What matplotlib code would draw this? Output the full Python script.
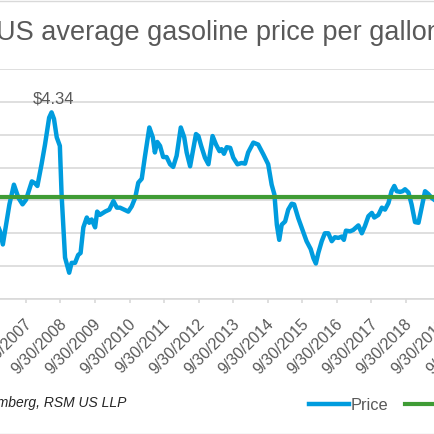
import numpy as np
import matplotlib
matplotlib.use("Agg")
import matplotlib.pyplot as plt
import matplotlib.transforms as mtransforms
from matplotlib.patches import Rectangle

plt.rcParams['font.family'] = ['Liberation Sans', 'DejaVu Sans']

# decimal years and weekly-ish price readings ($/gal)
dates = [2006.88, 2007.00, 2007.08, 2007.27, 2007.40, 2007.53, 2007.65, 2007.75,
         2007.92, 2008.01, 2008.08, 2008.20, 2008.30, 2008.42, 2008.49, 2008.56,
         2008.64, 2008.73, 2008.78, 2008.88, 2009.00, 2009.07, 2009.17, 2009.26,
         2009.33, 2009.41, 2009.51, 2009.58, 2009.65, 2009.75, 2009.81, 2009.89,
         2010.04, 2010.16, 2010.28, 2010.38, 2010.47, 2010.59, 2010.71, 2010.81,
         2010.91, 2011.00, 2011.10, 2011.19, 2011.32, 2011.42, 2011.48, 2011.55,
         2011.63, 2011.72, 2011.82, 2011.92, 2012.01, 2012.11, 2012.23, 2012.33,
         2012.40, 2012.50, 2012.59, 2012.67, 2012.74, 2012.82, 2012.93, 2013.03,
         2013.15, 2013.25, 2013.35, 2013.41, 2013.48, 2013.56, 2013.66, 2013.75,
         2013.87, 2013.99, 2014.09, 2014.18, 2014.33, 2014.47, 2014.62, 2014.76,
         2014.86, 2014.94, 2015.01, 2015.08, 2015.15, 2015.25, 2015.34, 2015.44,
         2015.51, 2015.63, 2015.76, 2015.87, 2015.99, 2016.07, 2016.14, 2016.21,
         2016.31, 2016.40, 2016.50, 2016.60, 2016.69, 2016.79, 2016.89, 2016.95,
         2017.01, 2017.13, 2017.22, 2017.37, 2017.47, 2017.56, 2017.66, 2017.76,
         2017.83, 2017.95, 2018.05, 2018.14, 2018.24, 2018.33, 2018.41, 2018.48,
         2018.58, 2018.65, 2018.72, 2018.82, 2018.91, 2019.01, 2019.11, 2019.20,
         2019.30, 2019.39, 2019.49, 2019.59, 2019.73]
price = [2.68, 2.53, 2.33, 2.94, 3.24, 3.04, 2.94, 3.01,
         3.29, 3.26, 3.22, 3.55, 3.85, 4.26, 4.34, 4.24,
         3.96, 3.83, 3.09, 2.13, 1.90, 2.05, 2.05, 2.17,
         2.20, 2.59, 2.74, 2.66, 2.71, 2.59, 2.83, 2.78,
         2.83, 2.86, 2.99, 2.89, 2.89, 2.86, 2.83, 2.91,
         3.04, 3.27, 3.33, 3.66, 4.11, 3.96, 3.73, 3.89,
         3.83, 3.66, 3.66, 3.55, 3.51, 3.68, 4.11, 3.96,
         3.73, 3.52, 3.78, 4.01, 3.98, 3.83, 3.65, 3.55,
         3.98, 3.85, 3.75, 3.78, 3.71, 3.81, 3.80, 3.65,
         3.55, 3.57, 3.56, 3.73, 3.88, 3.85, 3.70, 3.55,
         3.24, 3.09, 2.63, 2.40, 2.63, 2.68, 2.86, 2.95,
         2.94, 2.73, 2.54, 2.38, 2.26, 2.12, 2.04, 2.20,
         2.38, 2.50, 2.50, 2.38, 2.44, 2.43, 2.45, 2.40,
         2.54, 2.53, 2.55, 2.62, 2.50, 2.61, 2.76, 2.81,
         2.74, 2.78, 2.89, 2.86, 2.96, 3.14, 3.22, 3.14,
         3.13, 3.14, 3.17, 3.12, 2.94, 2.67, 2.66, 2.89,
         3.14, 3.10, 3.04, 3.00, 2.95]
avg_price = 3.05
tick_years = list(range(2005, 2021))
tick_labels = [f"9/30/{y}" for y in tick_years]

blue = '#009CDE'
green = '#3F9C35'
grey_text = '#595959'
grid_col = '#D9D9D9'

W = 435
fig = plt.figure(figsize=(4.35, 4.35), dpi=100)

# chart border (cropped at left/right)
fig.patches.append(Rectangle((-0.1, 0.5 / W), 1.2, 1 - 2 / W, transform=fig.transFigure,
                             fill=False, edgecolor=grid_col, linewidth=1.0))

# axes extends past the figure edges, the picture is a crop
x0, x1 = 2005.0, 2021.0
px_per_year = 34.55
left_px = 26 + (x0 - 2007.75) * px_per_year
right_px = 26 + (x1 - 2007.75) * px_per_year
ax = fig.add_axes([left_px / W, (W - 300) / W, (right_px - left_px) / W, (300 - 70) / W])
ax.set_xlim(x0, x1)
ax.set_ylim(1.5, 5.0)
ax.set_yticks(np.arange(1.5, 5.01, 0.5))
ax.yaxis.grid(True, color=grid_col, linewidth=1.2)
ax.set_axisbelow(True)
ax.tick_params(axis='y', left=False, labelleft=False)
for s in ['top', 'left', 'right']:
    ax.spines[s].set_visible(False)
ax.spines['bottom'].set_color(grid_col)
ax.spines['bottom'].set_linewidth(1.2)

ax.plot(dates, price, color=blue, linewidth=3.2, label='Price', zorder=3,
        solid_joinstyle='round')
ax.plot(dates, np.full(len(dates), avg_price), color=green, linewidth=3.0,
        label='Average', zorder=4)

i_max = int(np.argmax(price))
ax.annotate(f"${price[i_max]:.2f}", xy=(dates[i_max], price[i_max]), xytext=(1.5, 5),
            textcoords='offset points', ha='center', va='bottom',
            fontsize=12, color=grey_text)

ax.set_xticks([y + 273 / 365 for y in tick_years])
ax.set_xticklabels(tick_labels, rotation=45, ha='right', va='top',
                   rotation_mode='anchor', fontsize=11.5, color=grey_text)
ax.tick_params(axis='x', direction='out', length=3, width=1.2, color=grid_col, pad=8.5)
shift = mtransforms.ScaledTranslation(-1.6 / 100, 0, fig.dpi_scale_trans)
for lab in ax.get_xticklabels():
    lab.set_transform(lab.get_transform() + shift)

fig.text(0.504, 1 - 40.5 / W, 'US average gasoline price per gallon', ha='center',
         va='baseline', fontsize=19.5, color=grey_text)
fig.text(126 / W, 1 - 403 / W, 'Source: Bloomberg, RSM US LLP', ha='right', va='center',
         fontsize=10, style='italic', color='#262626')

fig.legend(loc='center left', bbox_to_anchor=(309 / W, 1 - 406 / W), ncol=2,
           frameon=False, fontsize=11.8, handlelength=2.44, handletextpad=0.07,
           columnspacing=1.04, borderpad=0, borderaxespad=0, labelcolor=grey_text)

fig.savefig('out.png', dpi=100)
